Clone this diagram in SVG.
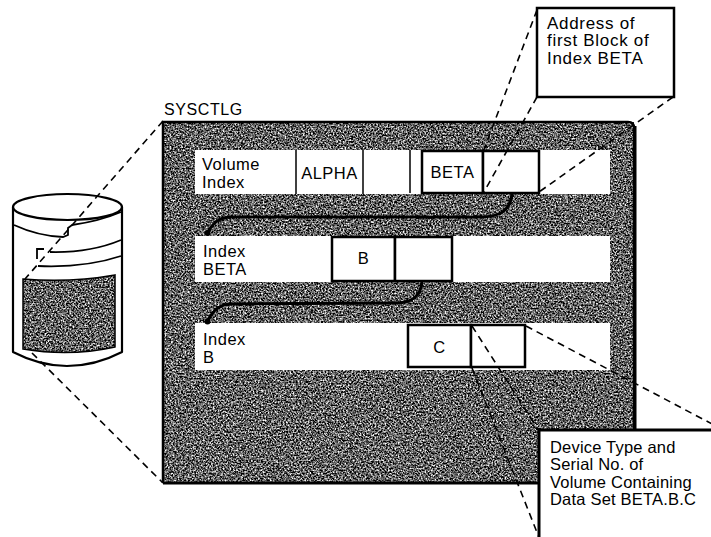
<svg xmlns="http://www.w3.org/2000/svg" width="711" height="537" viewBox="0 0 711 537">
<style>
text{font-family:"Liberation Sans",Arial,sans-serif;fill:#000}
.lbl{font-size:16.5px;letter-spacing:0.5px}
.cl{font-size:17px;letter-spacing:0.7px}
.dv{font-size:16.5px;letter-spacing:0.2px}
.row{fill:#fff;stroke:none}
.thin{stroke:#000;stroke-width:1.5;fill:none}
.box{fill:#fff;stroke:#000;stroke-width:2.5}
.dash{stroke:#000;stroke-width:1.6;fill:none;stroke-dasharray:7 5}
.ptr{stroke:#000;stroke-width:3;fill:none;stroke-linecap:round}
.cyl{fill:#fff;stroke:#000;stroke-width:2.2;stroke-linejoin:round}
.cyln{fill:none;stroke:#000;stroke-width:1.8}
</style>
<defs>
<filter id="grain" x="0" y="0" width="1" height="1" color-interpolation-filters="sRGB">
<feTurbulence type="fractalNoise" baseFrequency="0.6" numOctaves="3" seed="7"/>
<feColorMatrix type="matrix" values="2.2 0 0 0 -0.72  2.2 0 0 0 -0.72  2.2 0 0 0 -0.72  0 0 0 0 1"/>
<feComposite in2="SourceGraphic" operator="in"/>
</filter>
</defs>

<g id="cylinder">
<path class="cyl" d="M13,207 L13,352 Q40,366 67,366 Q95,366 122,352 L122,207 Z"/>
<ellipse class="cyl" cx="67.5" cy="207" rx="54.5" ry="13"/>
<path class="cyln" d="M14,225 Q38,236 63,237 L68,235 L68,228 L72,225 Q100,221 121,212"/>
<path class="cyln" d="M44,249 L37,249 L37,259"/>
<path class="cyln" d="M50,252 Q90,253 121,240"/>
<path class="cyln" d="M38,266 Q85,268 121,256"/>
<path d="M23,279 Q70,283 115,275 L115,347 Q70,357 23,349 Z" fill="#777" filter="url(#grain)"/>
<path d="M23,279 Q70,283 115,275 L115,347 Q70,357 23,349 Z" fill="none" stroke="#000" stroke-width="1.5"/>
</g>

<g id="sysctlg">
<text x="164" y="115" class="lbl" style="font-size:16px;letter-spacing:0.6px">SYSCTLG</text>
<rect x="163" y="122" width="471" height="361" fill="#777" filter="url(#grain)"/>
<path d="M163,483 L163,122 L628,122 Q634,122 634,128 L634,430" fill="none" stroke="#000" stroke-width="2.5"/>
<line x1="635" y1="126" x2="635" y2="430" stroke="#000" stroke-width="3"/>
<line x1="163" y1="483" x2="540" y2="483" stroke="#000" stroke-width="3"/>
</g>

<g id="volume-index">
<rect class="row" x="195" y="150" width="415" height="44"/>
<text x="202" y="169.5" class="lbl">Volume</text>
<text x="202" y="187.5" class="lbl">Index</text>
<line class="thin" x1="296" y1="150" x2="296" y2="194"/>
<text x="329.5" y="179" class="lbl" text-anchor="middle">ALPHA</text>
<line class="thin" x1="363" y1="150" x2="363" y2="194"/>
<line class="thin" x1="410" y1="150" x2="410" y2="193"/>
<rect class="box" x="422" y="151" width="61" height="42"/>
<text x="452.5" y="178" class="lbl" text-anchor="middle">BETA</text>
<rect class="box" x="483" y="151" width="56" height="42"/>
</g>

<g id="index-beta">
<rect class="row" x="195" y="236" width="415" height="46"/>
<text x="203" y="256.5" class="lbl">Index</text>
<text x="203" y="274.5" class="lbl">BETA</text>
<rect class="box" x="332" y="237" width="63" height="44"/>
<text x="363.5" y="264" class="lbl" text-anchor="middle">B</text>
<rect class="box" x="395" y="237" width="57" height="44"/>
</g>

<g id="index-b">
<rect class="row" x="195" y="323" width="415" height="47"/>
<text x="203" y="344.5" class="lbl">Index</text>
<text x="203" y="362.5" class="lbl">B</text>
<rect class="box" x="408" y="325" width="63" height="42"/>
<text x="439.5" y="353" class="lbl" text-anchor="middle">C</text>
<rect class="box" x="471" y="325" width="54" height="42"/>
</g>

<g id="connectors">
<path class="ptr" d="M512,194 C510,211 500,217 480,217 L232,217 C219,217 213,223 208,232"/>
<circle cx="207.5" cy="233" r="3"/>
<path class="ptr" d="M422,283 C420,298 410,303 395,303 L232,304 C219,304 213,311 208,320"/>
<circle cx="207.5" cy="321.5" r="3"/>
<line class="dash" x1="537" y1="10" x2="483" y2="152"/>
<line class="dash" x1="537" y1="97" x2="484" y2="192"/>
<line class="dash" x1="673" y1="97" x2="539" y2="192"/>
<line class="dash" x1="163" y1="121" x2="25" y2="279"/>
<line class="dash" x1="32" y1="353" x2="163" y2="483"/>
<line class="dash" x1="472" y1="326" x2="539" y2="431"/>
<line class="dash" x1="472" y1="368" x2="540" y2="540"/>
<line class="dash" x1="526" y1="326" x2="716" y2="426"/>
</g>

<g id="address-callout">
<rect x="537" y="8" width="137" height="89" fill="#fff" stroke="#000" stroke-width="2.5"/>
<text x="547" y="28.5" class="cl">Address of</text>
<text x="547" y="46" class="cl">first Block of</text>
<text x="547" y="63.5" class="cl">Index BETA</text>
</g>

<g id="device-callout">
<rect x="539" y="430" width="200" height="130" fill="#fff" stroke="#000" stroke-width="3"/>
<text x="550" y="452.5" class="dv">Device Type and</text>
<text x="550" y="470" class="dv">Serial No. of</text>
<text x="550" y="487.5" class="dv">Volume Containing</text>
<text x="550" y="505" class="dv">Data Set BETA.B.C</text>
</g>
</svg>
